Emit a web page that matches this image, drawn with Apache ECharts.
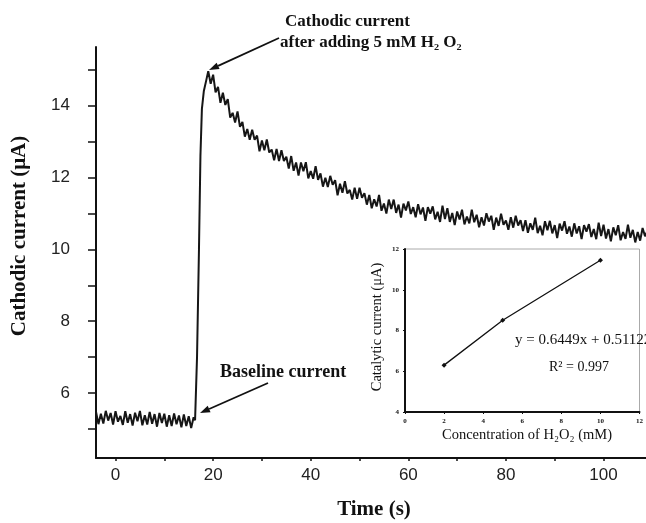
<!DOCTYPE html>
<html><head><meta charset="utf-8">
<script src="https://cdn.jsdelivr.net/npm/echarts@6/dist/echarts.min.js"></script>
<style>html,body{margin:0;padding:0;background:#fff}#c{width:646px;height:523px}</style>
</head><body><div id="c"></div>
<script>
// ---- Main trace data (time in s, current in µA) ----
const baselineStartTime = -4;
const sampleStep = 0.5;
const baselineCurrent = [
  5.49,5.14,5.43,5.16,5.51,5.24,5.45,5.13,5.50,5.21,
  5.37,5.12,5.50,5.18,5.42,5.10,5.46,5.22,5.51,5.11,
  5.39,5.13,5.48,5.15,5.42,5.07,5.45,5.17,5.43,5.07,
  5.39,5.09,5.44,5.14,5.38,5.05,5.41,5.09,5.36,5.03,
  5.33
];
const riseTime = [16.3,16.7,17.1,17.4,17.7,18.1,18.6,19.0,19.5];
const riseCurrent = [5.25,7.0,10.0,12.6,13.9,14.4,14.7,14.95,14.6];
const decayStartTime = 20;
const decayCurrent = [
  14.85,14.36,14.51,14.07,14.35,14.01,14.17,13.66,13.79,13.52,
  13.83,13.40,13.54,13.13,13.34,13.04,13.32,13.04,13.16,12.72,
  13.02,12.75,13.05,12.69,12.77,12.47,12.79,12.45,12.75,12.45,
  12.57,12.24,12.59,12.18,12.41,12.05,12.41,12.17,12.42,11.97,
  12.17,11.96,12.31,11.93,12.11,11.74,11.99,11.73,12.04,11.79,
  11.92,11.50,11.82,11.57,11.89,11.55,11.65,11.38,11.71,11.40,
  11.71,11.43,11.56,11.24,11.51,11.14,11.39,11.19,11.51,11.07,
  11.27,10.99,11.38,11.12,11.38,11.01,11.24,10.88,11.27,11.08,
  11.33,10.98,11.17,10.89,11.25,10.97,11.16,10.79,11.17,10.99,
  11.19,10.83,11.04,10.76,11.21,10.84,11.14,10.76,11.01,10.67,
  11.05,10.83,11.10,10.69,10.91,10.72,11.10,10.75,10.96,10.61,
  10.89,10.66,11.00,10.77,10.93,10.54,10.88,10.65,10.99,10.68,
  10.80,10.54,10.89,10.60,10.93,10.66,10.81,10.51,10.81,10.46,
  10.72,10.54,10.88,10.45,10.65,10.39,10.78,10.53,10.79,10.44,
  10.67,10.31,10.71,10.52,10.78,10.43,10.63,10.35,10.72,10.44,
  10.64,10.28,10.67,10.49,10.70,10.34,10.56,10.28,10.74,10.37,
  10.68,10.30,10.56,10.22,10.61,10.39,10.67,10.25,10.48,10.29,
  10.68,10.32,10.54,10.19,10.48,10.24,10.59,10.36,10.52
];
// ---- Axis ticks / labels ----
const yTickValues = [5,6,7,8,9,10,11,12,13,14,15];
const yLabelValues = [6,8,10,12,14];
const xTickValues = [0,10,20,30,40,50,60,70,80,90,100];
const xLabelValues = [0,20,40,60,80,100];
// ---- Inset data ----
const concentration = [2,5,10];
const catalyticCurrent = [6.3,8.5,11.45];
const insetXTicks = [0,2,4,6,8,10,12];
const insetYTicks = [4,6,8,10,12];

const trace = [];
baselineCurrent.forEach((v,i)=>trace.push([baselineStartTime + i*sampleStep, v]));
riseTime.forEach((t,i)=>trace.push([t, riseCurrent[i]]));
decayCurrent.forEach((v,i)=>trace.push([decayStartTime + i*sampleStep, v]));
const insetPts = concentration.map((c,i)=>[c, catalyticCurrent[i]]);

const SERIF = '"Liberation Serif","Times New Roman",serif';
const SANS = '"Liberation Sans",Arial,sans-serif';

function arrow(x1,y1,x2,y2){
  const a = Math.atan2(y2-y1, x2-x1), L = 10, W = 3.5;
  const bx = x2 - L*Math.cos(a), by = y2 - L*Math.sin(a);
  return [
    {type:'line', shape:{x1:x1,y1:y1,x2:bx,y2:by}, style:{stroke:'#111', lineWidth:1.8}, z:100},
    {type:'polygon', shape:{points:[[x2,y2],[bx - W*Math.sin(a), by + W*Math.cos(a)],[bx + W*Math.sin(a), by - W*Math.cos(a)]]}, style:{fill:'#111'}, z:100}
  ];
}

const chart = echarts.init(document.getElementById('c'), null, {renderer:'canvas'});
chart.setOption({
  animation:false,
  backgroundColor:'#fff',
  grid:[
    {left:96, top:47, right:0, bottom:65, containLabel:false},
    {left:405, top:249, width:243, height:163, show:true, backgroundColor:'#fff', borderColor:'#aaa', borderWidth:1, z:5}
  ],
  xAxis:[
    {type:'value', gridIndex:0, min:-4, max:108.7,
      axisLine:{show:true, onZero:false, lineStyle:{color:'#111', width:2}},
      axisTick:{show:true, customValues:xTickValues, length:3, lineStyle:{color:'#111', width:1.5}},
      axisLabel:{customValues:xLabelValues, color:'#222', fontFamily:SANS, fontSize:17, margin:9},
      splitLine:{show:false}},
    {type:'value', gridIndex:1, min:0, max:12, interval:2,
      axisLine:{show:true, onZero:false, lineStyle:{color:'#111', width:2}},
      axisTick:{show:true, length:2, lineStyle:{color:'#111'}},
      axisLabel:{customValues:insetXTicks, color:'#111', fontFamily:SERIF, fontWeight:'bold', fontSize:7, margin:6},
      splitLine:{show:false}, z:6}
  ],
  yAxis:[
    {type:'value', gridIndex:0, min:4.2, max:15.62,
      axisLine:{show:true, onZero:false, lineStyle:{color:'#111', width:2}},
      axisTick:{show:true, customValues:yTickValues, length:8, lineStyle:{color:'#111', width:1.5}},
      axisLabel:{customValues:yLabelValues, color:'#222', fontFamily:SANS, fontSize:17, margin:26},
      splitLine:{show:false}},
    {type:'value', gridIndex:1, min:4, max:12, interval:2,
      axisLine:{show:true, onZero:false, lineStyle:{color:'#111', width:2}},
      axisTick:{show:true, length:2, lineStyle:{color:'#111'}},
      axisLabel:{customValues:insetYTicks, color:'#111', fontFamily:SERIF, fontWeight:'bold', fontSize:7, margin:6},
      splitLine:{show:false}, z:6}
  ],
  series:[
    {name:'Cathodic current', type:'line', xAxisIndex:0, yAxisIndex:0, data:trace,
      showSymbol:false, symbol:'none', clip:true,
      lineStyle:{color:'#161616', width:2}, z:2},
    {name:'Catalytic current', type:'line', xAxisIndex:1, yAxisIndex:1, data:insetPts,
      symbol:'diamond', symbolSize:5, itemStyle:{color:'#111'},
      lineStyle:{color:'#111', width:1.3}, z:7}
  ],
  graphic:[
    {type:'text', x:20, y:236, rotation:Math.PI/2, z:50,
      style:{text:'Cathodic current (μA)', font:'bold 21px '+SERIF, fill:'#111', textAlign:'center', textVerticalAlign:'middle'}},
    {type:'text', x:374, y:510, z:50,
      style:{text:'Time (s)', font:'bold 21px '+SERIF, fill:'#111', textAlign:'center', textVerticalAlign:'middle'}},
    {type:'text', x:285, y:22, z:50,
      style:{text:'Cathodic current', font:'bold 17px '+SERIF, fill:'#111', textAlign:'left', textVerticalAlign:'middle'}},
    {type:'text', x:280, y:43, z:50,
      style:{text:'after adding 5 mM H₂ O₂', font:'bold 17px '+SERIF, fill:'#111', textAlign:'left', textVerticalAlign:'middle'}},
    {type:'text', x:220, y:372, z:50,
      style:{text:'Baseline current', font:'bold 18px '+SERIF, fill:'#111', textAlign:'left', textVerticalAlign:'middle'}},
    {type:'text', x:377, y:327, rotation:Math.PI/2, z:50,
      style:{text:'Catalytic current (μA)', font:'14.5px '+SERIF, fill:'#111', textAlign:'center', textVerticalAlign:'middle'}},
    {type:'text', x:527, y:435, z:50,
      style:{text:'Concentration of H₂O₂ (mM)', font:'14.5px '+SERIF, fill:'#111', textAlign:'center', textVerticalAlign:'middle'}},
    {type:'text', x:515, y:340, z:50,
      style:{text:'y = 0.6449x + 0.51122', font:'15px '+SERIF, fill:'#111', textAlign:'left', textVerticalAlign:'middle'}},
    {type:'text', x:579, y:367, z:50,
      style:{text:'R² = 0.997', font:'14px '+SERIF, fill:'#111', textAlign:'center', textVerticalAlign:'middle'}}
  ].concat(arrow(279,38,209,70)).concat(arrow(268,383,200,413))
});
</script></body></html>
